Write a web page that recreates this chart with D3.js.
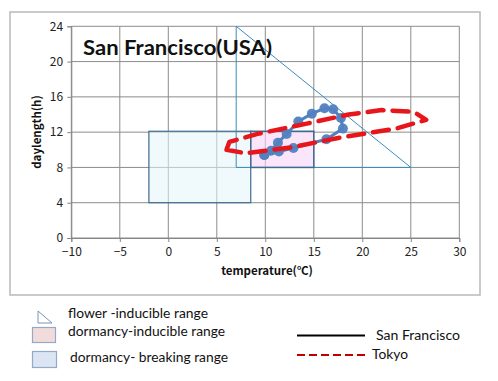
<!DOCTYPE html>
<html><head><meta charset="utf-8">
<script src="https://cdn.jsdelivr.net/npm/d3@7"></script>
<style>body{margin:0;background:#fff}svg{display:block}</style>
</head><body>
<svg id="c" width="498" height="381"></svg>
<script>
const xTicks = [-10,-5,0,5,10,15,20,25,30];
const yTicks = [0,4,8,12,16,20,24];
// San Francisco: [temperature, daylength]
const sfTemp = [9.9,10.6,11.3,12.2,13.4,14.8,16.1,17.0,17.8,18.0,16.3,12.9,11.4,9.9];
const sfDay  = [9.4,9.9,10.8,11.8,13.2,14.1,14.7,14.6,13.6,12.4,11.2,10.2,9.8,9.4];
// Tokyo
const tkTemp = [6.0,6.3,9.2,14.4,18.6,22.0,25.3,26.6,23.5,17.8,12.8,8.0,6.0];
const tkDay  = [10.0,10.9,11.8,13.0,14.0,14.5,14.3,13.4,12.4,11.4,10.3,9.6,10.0];
// ranges
const flowerTri = [[7,24],[7,8],[25,8]];
const dormBreak = {x0:-2, x1:8.5, y0:4, y1:12.1};
const dormInduce = {x0:8.5, x1:15, y0:8, y1:12.1};

const svg = d3.select("#c");
const x = d3.scaleLinear().domain([-10,30]).range([71.3,459.3]);
const y = d3.scaleLinear().domain([0,24]).range([238,26.3]);

// outer chart border
svg.append("rect").attr("x",10).attr("y",12).attr("width",470).attr("height",283)
  .attr("fill","#fff").attr("stroke","#b9b9b9").attr("stroke-width",1.5);

// grid
const g = svg.append("g");
g.selectAll(".vg").data(xTicks).join("line")
  .attr("x1",d=>x(d)).attr("x2",d=>x(d)).attr("y1",y(0)).attr("y2",y(24))
  .attr("stroke","#8c8c8c").attr("stroke-width",1);
g.selectAll(".hg").data(yTicks).join("line")
  .attr("x1",x(-10)).attr("x2",x(30)).attr("y1",d=>y(d)).attr("y2",d=>y(d))
  .attr("stroke","#8c8c8c").attr("stroke-width",1);

// axes
const xAxis = d3.axisBottom(x).tickValues(xTicks).tickSize(4).tickFormat(d=>d<0?"\u2212"+Math.abs(d):d);
const yAxis = d3.axisLeft(y).tickValues(yTicks).tickSize(4);
const ax = svg.append("g").attr("transform",`translate(0,${y(0)})`).call(xAxis);
const ay = svg.append("g").attr("transform",`translate(${x(-10)},0)`).call(yAxis);
[ax,ay].forEach(a=>{
  a.select(".domain").attr("stroke","#868686");
  a.selectAll(".tick line").attr("stroke","#868686");
  a.selectAll("text").attr("font-family","'Noto Sans CJK JP', 'DejaVu Sans', sans-serif")
   .attr("font-size",12).attr("fill","#222");
});
ax.selectAll("text").attr("dy","0.95em");
ay.selectAll("text").attr("dx","-0.1em");

// dormancy-breaking range
svg.append("rect").attr("x",x(dormBreak.x0)).attr("y",y(dormBreak.y1))
  .attr("width",x(dormBreak.x1)-x(dormBreak.x0)).attr("height",y(dormBreak.y0)-y(dormBreak.y1))
  .attr("fill","#e4f5f9").attr("fill-opacity",0.55).attr("stroke","#3f6a92").attr("stroke-width",1.2);
// flower-inducible triangle
svg.append("path").attr("d",d3.line().x(d=>x(d[0])).y(d=>y(d[1]))(flowerTri)+"Z")
  .attr("fill","none").attr("stroke","#3b8bbb").attr("stroke-width",1);
// dormancy-inducible range
svg.append("rect").attr("x",x(dormInduce.x0)).attr("y",y(dormInduce.y1))
  .attr("width",x(dormInduce.x1)-x(dormInduce.x0)).attr("height",y(dormInduce.y0)-y(dormInduce.y1))
  .attr("fill","#f8d4f6").attr("fill-opacity",0.6).attr("stroke","#3f6a92").attr("stroke-width",1.5);

// series
const sf = sfTemp.map((t,i)=>[t,sfDay[i]]);
const tk = tkTemp.map((t,i)=>[t,tkDay[i]]);
const line = d3.line().x(d=>x(d[0])).y(d=>y(d[1]));
svg.append("path").attr("d",line(sf)).attr("fill","none").attr("stroke","#5181c0")
  .attr("stroke-width",3).attr("stroke-linejoin","round");
svg.selectAll(".sfp").data(sf).join("circle").attr("cx",d=>x(d[0])).attr("cy",d=>y(d[1]))
  .attr("r",5).attr("fill","#5181c0").attr("fill-opacity",0.95);
svg.append("path").attr("d",line(tk)).attr("fill","none").attr("stroke","#e6161a")
  .attr("stroke-width",4.5).attr("stroke-dasharray","16,9").attr("stroke-linecap","round")
  .attr("stroke-linejoin","round");

// title
svg.append("text").attr("x",83).attr("y",55).text("San Francisco(USA)")
  .attr("font-family","Lato, 'Open Sans', sans-serif").attr("font-weight","bold").attr("font-size",21)
  .attr("textLength",189).attr("lengthAdjust","spacingAndGlyphs").attr("fill","#111");

// axis titles
svg.append("text").attr("x",267).attr("y",275).attr("text-anchor","middle").text("temperature(\u2103)")
  .attr("font-family","'Noto Sans CJK JP', sans-serif").attr("font-weight","bold").attr("font-size",11.5)
  .attr("fill","#111");
svg.append("text").attr("transform","translate(41,132) rotate(-90)").attr("text-anchor","middle")
  .text("daylength(h)").attr("font-family","'Noto Sans CJK JP', sans-serif").attr("font-weight","bold")
  .attr("font-size",11.5).attr("fill","#111");

// legend
const lf = "Lato, 'Open Sans', sans-serif";
const leg = svg.append("g");
leg.append("path").attr("d","M38,311 L38,323 L52,323 Z").attr("fill","#fff").attr("stroke","#7a93b8").attr("stroke-width",1);
leg.append("rect").attr("x",32.5).attr("y",327.5).attr("width",23).attr("height",15)
  .attr("fill","#f2dcdb").attr("stroke","#95a8c8").attr("stroke-width",1.2);
leg.append("rect").attr("x",32.5).attr("y",351.5).attr("width",24).attr("height",16)
  .attr("fill","#dbe5f4").attr("stroke","#95a8c8").attr("stroke-width",1.2);
const legText = [
  {t:"flower -inducible range", x:68, y:318, w:140},
  {t:"dormancy-inducible range", x:68, y:336, w:157},
  {t:"dormancy- breaking range", x:70, y:362, w:158},
  {t:"San  Francisco", x:376, y:340, w:84},
  {t:"Tokyo", x:372, y:359, w:36}
];
leg.selectAll("text").data(legText).join("text").attr("x",d=>d.x).attr("y",d=>d.y).text(d=>d.t)
  .attr("font-family",lf).attr("font-size",13.5).attr("fill","#111")
  .attr("textLength",d=>d.w).attr("lengthAdjust","spacingAndGlyphs");
leg.append("line").attr("x1",297).attr("x2",365).attr("y1",335.5).attr("y2",335.5)
  .attr("stroke","#000").attr("stroke-width",2);
leg.append("line").attr("x1",297).attr("x2",366).attr("y1",355).attr("y2",355)
  .attr("stroke","#c00000").attr("stroke-width",2.2).attr("stroke-dasharray","8,4");
</script>
</body></html>
